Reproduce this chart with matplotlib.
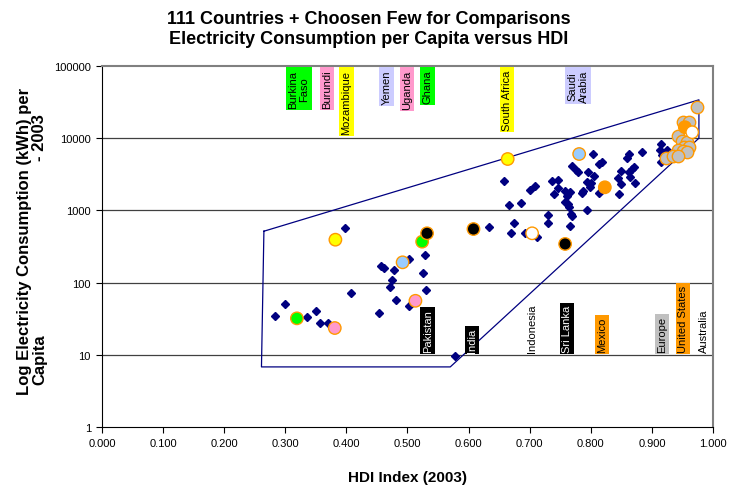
import numpy as np
import matplotlib
matplotlib.use('Agg')
import matplotlib.pyplot as plt
from matplotlib.ticker import FixedLocator, FuncFormatter, NullLocator

plt.rcParams['font.family'] = ['Liberation Sans', 'DejaVu Sans']

# 111 countries (navy diamonds): HDI 2003, kWh per capita 2003
hdi = [0.283, 0.300, 0.335, 0.350, 0.357, 0.370, 0.397, 0.407, 0.454, 0.457,
       0.461, 0.478, 0.474, 0.471, 0.481, 0.503, 0.502, 0.528, 0.525, 0.531,
       0.577, 0.634, 0.658, 0.666, 0.686, 0.701, 0.709, 0.736, 0.746, 0.740,
       0.746, 0.674, 0.669, 0.692, 0.712, 0.730, 0.730, 0.766, 0.770, 0.767,
       0.764, 0.762, 0.757, 0.761, 0.758, 0.766, 0.769, 0.775, 0.779, 0.795,
       0.804, 0.814, 0.818, 0.806, 0.794, 0.801, 0.799, 0.788, 0.786, 0.813,
       0.794, 0.845, 0.850, 0.847, 0.849, 0.859, 0.862, 0.863, 0.867, 0.870,
       0.864, 0.873, 0.884, 0.915, 0.913, 0.925, 0.917, 0.915]
kwh = [35, 50, 33, 40, 28, 28, 570, 72, 38, 168,
       158, 151, 109, 88, 57, 48, 212, 241, 136, 80,
       9.5, 583, 2530, 1200, 1270, 1920, 2200, 2530, 2640, 1690,
       2060, 665, 482, 482, 424, 863, 676, 603, 845, 891,
       1100, 1230, 1320, 1600, 1840, 1780, 4080, 3660, 3370, 3370,
       6100, 4390, 4730, 3030, 2500, 2400, 2090, 1870, 1740, 1730,
       1010, 2790, 2320, 1690, 3550, 5270, 6040, 3370, 3740, 3930,
       2870, 2410, 6380, 8310, 6870, 6760, 5910, 4680]

# Chosen few (circles)
sel_names = ['Burkina Faso', 'Burundi', 'Mozambique', 'Yemen', 'Uganda', 'Ghana',
             'Pakistan', 'India', 'South Africa', 'Saudi Arabia', 'Indonesia',
             'Sri Lanka', 'Mexico', 'United States', 'Australia']
sel_hdi = [0.319, 0.381, 0.382, 0.492, 0.513, 0.524, 0.532, 0.608, 0.664, 0.781,
           0.704, 0.758, 0.823, 0.954, 0.966]
sel_kwh = [32, 23.5, 393, 191, 56, 369, 482, 552, 5150, 6040,
           482, 343, 2090, 14200, 12100]
sel_color = ['#00ff00', '#ff99cc', '#ffff00', '#99ccff', '#ff99cc', '#00ff00',
             'black', 'black', '#ffff00', '#99ccff', 'white',
             'black', '#ff9900', '#ff9900', 'white']

# Europe (gray circles)
eu_hdi = [0.974, 0.951, 0.960, 0.943, 0.950, 0.958, 0.953, 0.961, 0.943,
          0.951, 0.958, 0.923, 0.935, 0.943]
eu_kwh = [26800, 16600, 16600, 10600, 9240, 8770, 7480, 7480, 6930,
          6710, 6500, 5270, 5720, 5720]

# envelope around the data
hull_hdi = [0.265, 0.261, 0.570, 0.977, 0.977, 0.265]
hull_kwh = [515, 6.8, 6.8, 10000, 34000, 515]

# labels: text, box colour, text colour
top_labels = ['Burkina\nFaso', 'Burundi', 'Mozambique', 'Yemen', 'Uganda', 'Ghana',
              'South Africa', 'Saudi\nArabia']
top_box = ['#00ff00', '#ff99cc', '#ffff00', '#ccccff', '#ff99cc', '#00ff00',
           '#ffff00', '#ccccff']
top_x = [0.322, 0.368, 0.400, 0.466, 0.499, 0.533, 0.663, 0.779]

bot_labels = ['Pakistan', 'India', 'Indonesia', 'Sri Lanka', 'Mexico', 'Europe',
              'United States', 'Australia']
bot_box = ['black', 'black', None, 'black', '#ff9900', '#c0c0c0', '#ff9900', None]
bot_text = ['white', 'white', 'black', 'white', 'black', 'black', 'black', 'black']
bot_x = [0.533, 0.606, 0.703, 0.761, 0.818, 0.917, 0.951, 0.985]

x_ticks = [0.0, 0.1, 0.2, 0.3, 0.4, 0.5, 0.6, 0.7, 0.8, 0.9, 1.0]
y_ticks = [1, 10, 100, 1000, 10000, 100000]

# Figure
fig = plt.figure(figsize=(7.37, 4.89), dpi=100)
ax = fig.add_axes([0.1384, 0.1247, 0.8290, 0.7383])
ax.set_yscale('log')
ax.set_xlim(0, 1)
ax.set_ylim(1, 100000)

# gridlines
for y in y_ticks[1:-1]:
    ax.axhline(y, color='#404040', lw=0.9, zorder=1)

# envelope
ax.plot(hull_hdi, hull_kwh, color='#000080', lw=0.9, zorder=2)

# diamonds
ax.plot(hdi, kwh, 'D', color='#000080', ms=3.6, mec='#000080', zorder=3)

# Europe circles
ax.scatter(eu_hdi, eu_kwh, s=80, c='#c0c0c0', edgecolors='#ff9900',
           linewidths=1.0, zorder=4)

# chosen countries
ax.scatter(sel_hdi, sel_kwh, s=80, c=sel_color, edgecolors='#ff9900',
           linewidths=1.0, zorder=5)

# labels on top
for t, c, x in zip(top_labels, top_box, top_x):
    ax.text(x, 89000, t, rotation=90, ha='center', va='top', fontsize=8,
            multialignment='center', zorder=6,
            bbox=dict(boxstyle='square,pad=0.2', fc=c, ec='none'))

# labels at the bottom
for t, c, tc, x in zip(bot_labels, bot_box, bot_text, bot_x):
    bb = None
    if c is not None:
        bb = dict(boxstyle='square,pad=0.2', fc=c, ec='none')
    ax.text(x, 10.9, t, rotation=90, ha='center', va='bottom', fontsize=8,
            color=tc, zorder=6, bbox=bb)

# axes
ax.xaxis.set_major_locator(FixedLocator(x_ticks))
ax.xaxis.set_major_formatter(FuncFormatter(lambda v, p: '%.3f' % v))
ax.yaxis.set_major_locator(FixedLocator(y_ticks))
ax.yaxis.set_major_formatter(FuncFormatter(lambda v, p: '%d' % v))
ax.yaxis.set_minor_locator(NullLocator())
ax.tick_params(axis='both', labelsize=8, direction='out', length=4, width=0.8,
               pad=4)
ax.spines['top'].set_color('#808080')
ax.spines['right'].set_color('#808080')
ax.spines['top'].set_linewidth(1.5)
ax.spines['right'].set_linewidth(1.5)

ax.set_xlabel('HDI Index (2003)', fontsize=11, fontweight='bold', labelpad=16)

# y label, two columns like the original
fig.text(25 / 737, 0.507, 'Log Electricity Consumption (kWh) per', rotation=90,
         ha='center', va='center', fontsize=12, fontweight='bold')
fig.text(40 / 737, 0.264, 'Capita', rotation=90,
         ha='center', va='center', fontsize=12, fontweight='bold')
fig.text(40 / 737, 0.718, '- 2003', rotation=90,
         ha='center', va='center', fontsize=12, fontweight='bold')

fig.text(0.5, 0.940, '111 Countries + Choosen Few for Comparisons\n'
         'Electricity Consumption per Capita versus HDI',
         ha='center', va='center', fontsize=13, fontweight='bold',
         linespacing=1.2)

fig.savefig('out.png', dpi=100)
